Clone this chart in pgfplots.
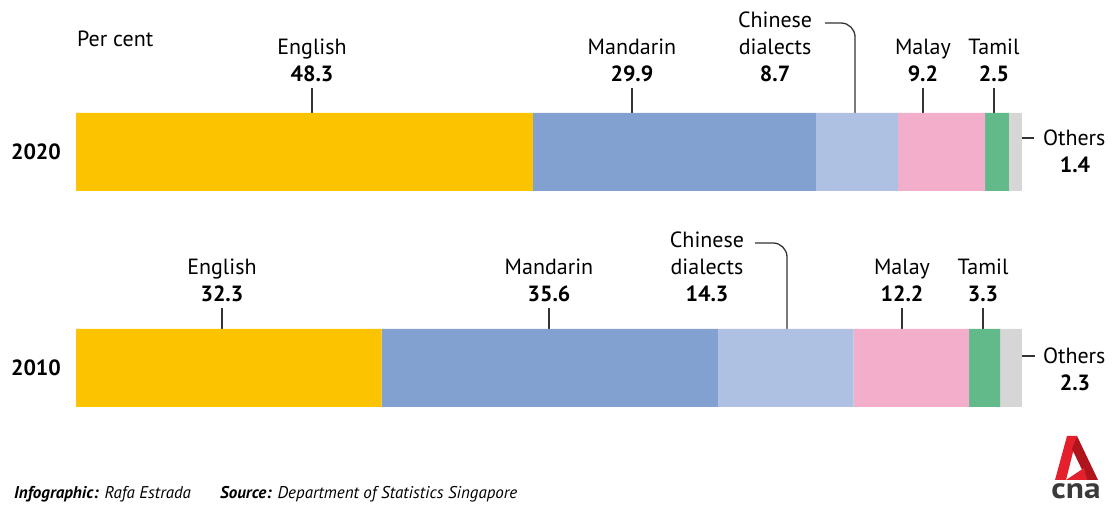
\documentclass[border=0pt]{standalone}
\usepackage{pgfplots}
\pgfplotsset{compat=1.18}
\usepackage{fontspec}
\setmainfont{PT Sans}
\definecolor{cyellow}{HTML}{FCC300}
\definecolor{cblue}{HTML}{83A1D0}
\definecolor{clblue}{HTML}{AEC1E2}
\definecolor{cpink}{HTML}{F3AECB}
\definecolor{cgreen}{HTML}{62BA8A}
\definecolor{cgray}{HTML}{D6D6D6}
\definecolor{cline}{HTML}{333333}
\definecolor{cred}{HTML}{E3202B}
\definecolor{cdred}{HTML}{B0141D}
\definecolor{clogo}{HTML}{3A3A3A}
\tikzset{
  nm/.style={font=\fontsize{22}{24}\selectfont, anchor=base, inner sep=0pt, text=black},
  vl/.style={font=\fontsize{22}{24}\selectfont\bfseries, anchor=base, inner sep=0pt, text=black},
  ld/.style={draw=cline, line width=1.3pt},
}
\begin{document}
\begin{tikzpicture}[x=1pt,y=1pt]
\useasboundingbox (0,0) rectangle (1113,505);
\begin{axis}[
  at={(0pt,0pt)}, anchor=south west,
  scale only axis, width=1113pt, height=505pt,
  xmin=-8.034, xmax=109.62, ymin=0, ymax=505,
  hide axis, clip=false,
  xbar stacked, bar width=78pt,
  every axis plot/.append style={draw=none},
]
% English, Mandarin, Chinese dialects, Malay, Tamil, Others
\addplot[fill=cyellow] coordinates {(48.3,353) (32.3,137)};
\addplot[fill=cblue]   coordinates {(29.9,353) (35.6,137)};
\addplot[fill=clblue]  coordinates {(8.7,353)  (14.3,137)};
\addplot[fill=cpink]   coordinates {(9.2,353)  (12.2,137)};
\addplot[fill=cgreen]  coordinates {(2.5,353)  (3.3,137)};
\addplot[fill=cgray]   coordinates {(1.4,353)  (2.3,137)};

% year labels
\node[vl] at (axis cs:-4.23,345) {2020};
\node[vl] at (axis cs:-4.23,129) {2010};
\node[nm, anchor=base west] at (axis cs:0.1,458) {Per cent};

% 2020 labels
\node[nm] at (axis cs:24.95,450) {English};
\node[vl] at (axis cs:24.95,423) {48.3};
\draw[ld] (axis cs:24.95,417) -- (axis cs:24.95,377);
\node[nm] at (axis cs:58.77,450) {Mandarin};
\node[vl] at (axis cs:58.77,423) {29.9};
\draw[ld] (axis cs:58.77,417) -- (axis cs:58.77,377);
\node[nm] at (axis cs:73.9,477) {Chinese};
\node[nm] at (axis cs:73.9,450) {dialects};
\node[vl] at (axis cs:73.9,423) {8.7};
\draw[ld, rounded corners=14pt] (axis cs:79.2,482) -- (axis cs:82.35,482) -- (axis cs:82.35,377);
\node[nm] at (axis cs:89.53,450) {Malay};
\node[vl] at (axis cs:89.53,423) {9.2};
\draw[ld] (axis cs:89.53,417) -- (axis cs:89.53,377);
\node[nm] at (axis cs:97.04,450) {Tamil};
\node[vl] at (axis cs:97.04,423) {2.5};
\draw[ld] (axis cs:97.04,417) -- (axis cs:97.04,377);
\draw[ld] (axis cs:99.05,367) -- (axis cs:101.27,367);
\node[nm, anchor=west] at (axis cs:102.2,367) {Others};
\node[vl] at (axis cs:105.6,332) {1.4};

% 2010 labels
\node[nm] at (axis cs:15.43,230) {English};
\node[vl] at (axis cs:15.43,203) {32.3};
\draw[ld] (axis cs:15.43,197) -- (axis cs:15.43,158);
\node[nm] at (axis cs:50.0,230) {Mandarin};
\node[vl] at (axis cs:50.0,203) {35.6};
\draw[ld] (axis cs:50.0,197) -- (axis cs:50.0,158);
\node[nm] at (axis cs:66.7,257) {Chinese};
\node[nm] at (axis cs:66.7,230) {dialects};
\node[vl] at (axis cs:66.7,203) {14.3};
\draw[ld, rounded corners=14pt] (axis cs:71.8,262) -- (axis cs:75.16,262) -- (axis cs:75.16,157);
\node[nm] at (axis cs:87.32,230) {Malay};
\node[vl] at (axis cs:87.32,203) {12.2};
\draw[ld] (axis cs:87.32,197) -- (axis cs:87.32,158);
\node[nm] at (axis cs:95.88,230) {Tamil};
\node[vl] at (axis cs:95.88,203) {3.3};
\draw[ld] (axis cs:95.88,197) -- (axis cs:95.88,158);
\draw[ld] (axis cs:99.26,149) -- (axis cs:101.37,149);
\node[nm, anchor=west] at (axis cs:102.2,149) {Others};
\node[vl] at (axis cs:105.6,114) {2.3};

% footer
\node[anchor=base west, inner sep=0pt, font=\fontsize{17}{19}\selectfont\itshape] at (axis cs:-6.55,6)
  {\textbf{Infographic:} Rafa Estrada};
\node[anchor=base west, inner sep=0pt, font=\fontsize{17}{19}\selectfont\itshape] at (axis cs:15.22,6)
  {\textbf{Source:} Department of Statistics Singapore};
\end{axis}
% logo
\fill[cred] (1067,69) -- (1077,69) -- (1066,25) -- (1055,25) -- cycle;
\fill[cdred] (1077,69) -- (1098,25) -- (1087,25) -- (1072,56) -- cycle;
\fill[cred] (1066,25) -- (1087,25) -- (1084,37) -- cycle;
\node[anchor=base, inner sep=0pt, text=clogo, font=\fontsize{29}{29}\selectfont\bfseries] at (1076,6) {\scalebox{1.15}[1]{cna}};
\end{tikzpicture}
\end{document}
